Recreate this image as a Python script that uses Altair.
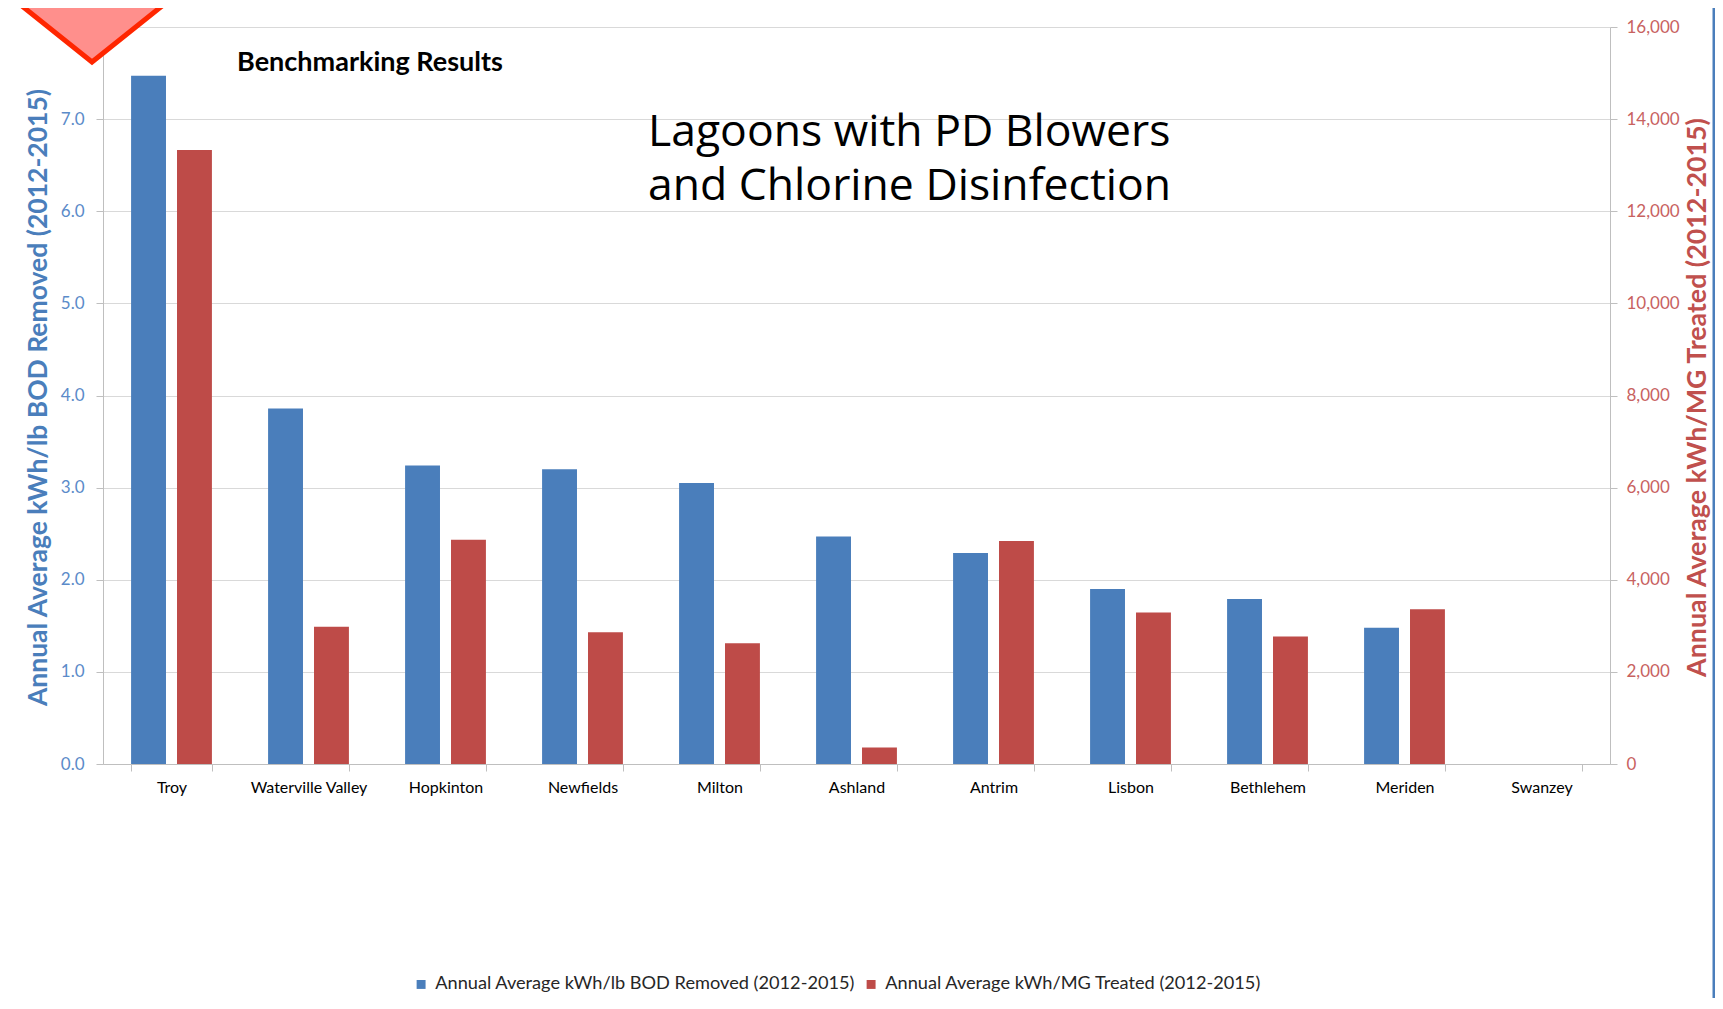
import altair as alt
import pandas as pd

towns = ["Troy", "Waterville Valley", "Hopkinton", "Newfields", "Milton", "Ashland",
         "Antrim", "Lisbon", "Bethlehem", "Meriden", "Swanzey"]
bod_values = [7.47, 3.86, 3.24, 3.20, 3.05, 2.47, 2.29, 1.90, 1.79, 1.48, None]
mg_values = [13330, 2980, 4870, 2860, 2620, 360, 4840, 3290, 2770, 3360, None]
series_names = ["Annual Average kWh/lb BOD Removed (2012-2015)",
                "Annual Average kWh/MG Treated (2012-2015)"]
series_colors = ["#4A7EBB", "#BE4B48"]
left_ticks = [0, 1, 2, 3, 4, 5, 6, 7, 8]
right_ticks = [0, 2000, 4000, 6000, 8000, 10000, 12000, 14000, 16000]
headline_1 = "Lagoons with PD Blowers"
headline_2 = "and Chlorine Disinfection"
subtitle = "Benchmarking Results"

bod_df = pd.DataFrame({"town": towns, "value": bod_values, "series": series_names[0]})
mg_df = pd.DataFrame({"town": towns, "value": mg_values, "series": series_names[1]})

x_enc = alt.X(
    "town:N",
    scale=alt.Scale(domain=towns, paddingInner=0.41, paddingOuter=0.205),
    axis=alt.Axis(title=None, labelAngle=0, labelFont="Lato", labelFontSize=16,
                  labelColor="#000000", tickBand="extent", tickSize=7,
                  tickColor="#BFBFBF", domainColor="#BFBFBF", labelPadding=8,
                  grid=False),
)
xoff_enc = alt.XOffset("series:N", scale=alt.Scale(domain=series_names, paddingInner=0.24))
color_enc = alt.Color(
    "series:N",
    scale=alt.Scale(domain=series_names, range=series_colors),
    legend=alt.Legend(orient="none", legendX=309, legendY=948, direction="horizontal",
                      title=None, symbolType="square", symbolSize=80,
                      symbolStrokeWidth=0, labelFont="Lato", labelFontSize=18.2,
                      labelColor="#262626", columnPadding=6, labelOffset=5,
                      labelLimit=1000),
)

left_bars = alt.Chart(bod_df).mark_bar().encode(
    x=x_enc,
    xOffset=xoff_enc,
    color=color_enc,
    y=alt.Y("value:Q", scale=alt.Scale(domain=[0, 8], nice=False),
            axis=alt.Axis(title=series_names[0], orient="left", values=left_ticks,
                          labelExpr="datum.value >= 8 ? '' : format(datum.value, '.1f')",
                          labelFont="Lato", labelFontSize=17, labelColor="#5B8BC9",
                          titleFont="Lato", titleFontSize=26.5, titleFontWeight="bold",
                          titleColor="#4A7EBB", titleX=-65, titleY=370,
                          titleAlign="center", titleBaseline="middle", titleAngle=270,
                          grid=True, gridColor="#D9D9D9",
                          domainColor="#BFBFBF", tickColor="#BFBFBF", tickSize=7,
                          labelPadding=12)),
)

right_bars = alt.Chart(mg_df).mark_bar().encode(
    x=x_enc,
    xOffset=xoff_enc,
    color=color_enc,
    y=alt.Y("value:Q", scale=alt.Scale(domain=[0, 16000], nice=False),
            axis=alt.Axis(title=series_names[1], orient="right", values=right_ticks,
                          labelExpr="format(datum.value, ',')",
                          labelFont="Lato", labelFontSize=17,
                          labelColor="#C8625F", titleFont="Lato", titleFontSize=26.8,
                          titleFontWeight="bold", titleColor="#C0504D", titleAngle=270,
                          titleX=87, titleY=370, titleAlign="center",
                          titleBaseline="middle",
                          grid=False, domainColor="#BFBFBF", tickColor="#BFBFBF",
                          tickSize=7, labelPadding=9)),
)

one = pd.DataFrame({"k": [0]})

sub_text = alt.Chart(one).mark_text(
    text=subtitle, font="Lato", fontSize=27, fontWeight="bold", align="center",
    baseline="middle", color="#000000"
).encode(x=alt.value(267), y=alt.value(36))

head_text_1 = alt.Chart(one).mark_text(
    text=headline_1, font="Open Sans", fontSize=44.5, align="left",
    baseline="alphabetic", color="#000000"
).encode(x=alt.value(545), y=alt.value(119))

head_text_2 = alt.Chart(one).mark_text(
    text=headline_2, font="Open Sans", fontSize=44.5, align="left",
    baseline="alphabetic", color="#000000"
).encode(x=alt.value(545), y=alt.value(173))

corner = alt.Chart(one).mark_point(
    shape="M -1 -0.8 L 1 -0.8 L 0 0 Z", size=57600, filled=True, opacity=1,
    fill="#FF8F8C", stroke="#FF2600", strokeWidth=5, strokeJoin="miter"
).encode(x=alt.value(-11), y=alt.value(35))

frame_right = alt.Chart(one).mark_rule(color="#4A7EBB", strokeWidth=3).encode(
    x=alt.value(1611), y=alt.value(-19), y2=alt.value(971)
)

chart = alt.layer(left_bars, right_bars, sub_text, head_text_1, head_text_2, corner,
                  frame_right).resolve_scale(
    y="independent"
).properties(
    width=1507, height=737,
    padding={"left": 95, "top": 19, "right": 105, "bottom": 234},
    autosize=alt.AutoSizeParams(type="none"),
    background="#FFFFFF",
).configure_view(strokeWidth=0)

chart.save("out.html", embed_options={"renderer": "svg", "actions": False})
